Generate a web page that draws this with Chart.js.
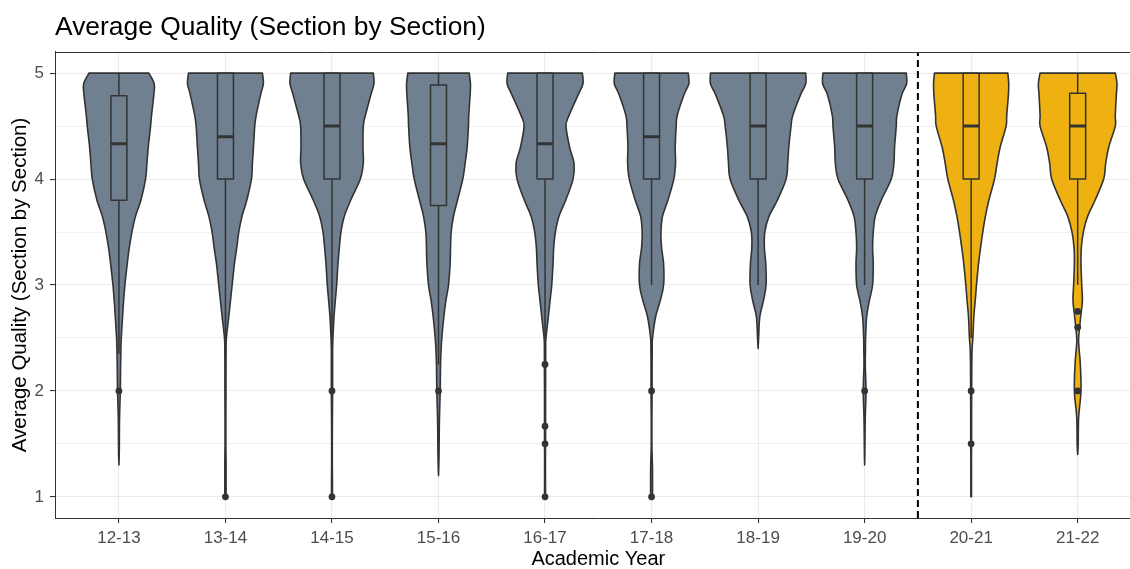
<!DOCTYPE html>
<html>
<head>
<meta charset="utf-8">
<title>Average Quality (Section by Section)</title>
<script src="https://cdn.jsdelivr.net/npm/chart.js@4.4.1/dist/chart.umd.min.js"></script>
<style>
  html, body { margin: 0; padding: 0; background: #fff; overflow: hidden; width: 1130px; height: 569px; }
  canvas { display: block; }
</style>
</head>
<body>
<canvas id="qualityChart" width="1145" height="569"></canvas>
<script>
// academic years on the x axis
const years = ["12-13", "13-14", "14-15", "15-16", "16-17", "17-18", "18-19", "19-20", "20-21", "21-22"];
const period = ["pre", "pre", "pre", "pre", "pre", "pre", "pre", "pre", "post", "post"];
const yTicks = [1, 2, 3, 4, 5];

// violin half-widths (in category units) at each quality level, null = outside data range
const densityLevels = [5.0, 4.9, 4.8, 4.6, 4.5, 4.3, 4.15, 4.0, 3.8, 3.65, 3.5, 3.35, 3.2, 3.0, 2.85, 2.7, 2.5, 2.4, 2.25, 2.0, 1.75, 1.5, 1.4, 1.3, 1.2, 1.0];
const violinWidths = [
  [0.281, 0.331, 0.328, 0.306, 0.297, 0.275, 0.263, 0.250, 0.206, 0.156, 0.122, 0.097, 0.078, 0.056, 0.044, 0.034, 0.022, 0.019, 0.016, 0.013, 0.006, 0.004, 0.003, 0, null, null],
  [0.347, 0.356, 0.331, 0.288, 0.275, 0.263, 0.253, 0.244, 0.200, 0.156, 0.125, 0.106, 0.084, 0.063, 0.047, 0.031, 0.009, 0.006, 0.005, 0.005, 0.004, 0.004, 0.005, 0.006, 0.006, 0.006],
  [0.388, 0.394, 0.366, 0.313, 0.294, 0.291, 0.294, 0.266, 0.175, 0.116, 0.084, 0.069, 0.056, 0.044, 0.031, 0.019, 0.009, 0.006, 0.006, 0.006, 0.004, 0.003, 0.003, 0.003, 0.004, 0.005],
  [0.288, 0.300, 0.297, 0.284, 0.281, 0.269, 0.250, 0.228, 0.178, 0.141, 0.119, 0.113, 0.109, 0.094, 0.069, 0.050, 0.031, 0.025, 0.019, 0.016, 0.009, 0.006, 0.005, 0.003, 0, null],
  [0.350, 0.356, 0.313, 0.225, 0.197, 0.231, 0.272, 0.263, 0.194, 0.131, 0.097, 0.081, 0.075, 0.063, 0.047, 0.031, 0.009, 0.006, 0.006, 0.005, 0.005, 0.005, 0.004, 0.004, 0.004, 0.005],
  [0.344, 0.350, 0.306, 0.241, 0.231, 0.222, 0.225, 0.209, 0.153, 0.103, 0.088, 0.094, 0.113, 0.113, 0.081, 0.038, 0.009, 0.006, 0.005, 0.005, 0.003, 0.003, 0.005, 0.008, 0.009, 0.009],
  [0.447, 0.447, 0.400, 0.325, 0.309, 0.288, 0.278, 0.263, 0.181, 0.103, 0.063, 0.059, 0.072, 0.075, 0.050, 0.016, 0.005, 0, null, null, null, null, null, null, null, null],
  [0.391, 0.394, 0.350, 0.303, 0.297, 0.281, 0.275, 0.250, 0.156, 0.100, 0.081, 0.075, 0.081, 0.075, 0.044, 0.019, 0.009, 0.008, 0.006, 0.013, 0.006, 0.003, 0.002, 0, null, null],
  [0.344, 0.353, 0.350, 0.334, 0.328, 0.272, 0.244, 0.219, 0.166, 0.134, 0.109, 0.088, 0.069, 0.050, 0.038, 0.025, 0.016, 0.009, 0.006, 0.005, 0.004, 0.004, 0.003, 0.003, 0.003, 0.003],
  [0.353, 0.369, 0.363, 0.353, 0.353, 0.291, 0.263, 0.244, 0.163, 0.094, 0.053, 0.034, 0.031, 0.038, 0.044, 0.028, 0.009, 0.013, 0.025, 0.031, 0.009, 0.005, 0, null, null, null]
];

// boxplot statistics
const q1          = [3.80, 4.0, 4.0, 3.75, 4.0, 4.0, 4.0, 4.0, 4.0, 4.0];
const median      = [4.333, 4.4, 4.5, 4.333, 4.333, 4.4, 4.5, 4.5, 4.5, 4.5];
const q3          = [4.786, 5.0, 5.0, 4.889, 5.0, 5.0, 5.0, 5.0, 5.0, 4.81];
const whiskerLow  = [2.35, 2.5, 2.5, 2.25, 2.5, 3.0, 3.0, 3.0, 2.5, 3.0];
const whiskerHigh = [5, 5, 5, 5, 5, 5, 5, 5, 5, 5];
const outliers = [
  [2.0],
  [1.0],
  [2.0, 1.0],
  [2.0],
  [2.25, 1.667, 1.5, 1.0],
  [2.0, 1.0],
  [],
  [2.0],
  [2.0, 1.5],
  [2.75, 2.6, 2.0]
];

// dashed divider sits between 19-20 and 20-21
const dividerAt = 7.5;

const periodColors = { pre: "#708090", post: "#EEB111" };
const ink = "#333333";
const boxHalf = 0.075;

Chart.defaults.font.family = "'Liberation Sans', Arial, sans-serif";

function spline(ctx, pts) {
  for (let k = 0; k < pts.length - 1; k++) {
    const p0 = pts[Math.max(k - 1, 0)];
    const p1 = pts[k];
    const p2 = pts[k + 1];
    const p3 = pts[Math.min(k + 2, pts.length - 1)];
    ctx.bezierCurveTo(
      p1.x + (p2.x - p0.x) / 6, p1.y + (p2.y - p0.y) / 6,
      p2.x - (p3.x - p1.x) / 6, p2.y - (p3.y - p1.y) / 6,
      p2.x, p2.y
    );
  }
}

const violinPlugin = {
  id: "violins",
  beforeDatasetsDraw(chart) {
    const { ctx, chartArea, scales: { x, y } } = chart;
    ctx.save();
    ctx.beginPath();
    ctx.rect(chartArea.left, chartArea.top, chartArea.right - chartArea.left, chartArea.bottom - chartArea.top);
    ctx.clip();

    years.forEach((yr, i) => {
      const widths = violinWidths[i];
      const keep = densityLevels.map((lv, k) => k).filter(k => widths[k] !== null);
      const right = keep.map(k => ({ x: x.getPixelForValue(i + widths[k]), y: y.getPixelForValue(densityLevels[k]) }));
      const left = keep.map(k => ({ x: x.getPixelForValue(i - widths[k]), y: y.getPixelForValue(densityLevels[k]) })).reverse();

      // violin body
      ctx.beginPath();
      ctx.moveTo(left[left.length - 1].x, left[left.length - 1].y);
      ctx.lineTo(right[0].x, right[0].y);
      spline(ctx, right);
      ctx.lineTo(left[0].x, left[0].y);
      spline(ctx, left);
      ctx.closePath();
      ctx.fillStyle = periodColors[period[i]];
      ctx.fill();
      ctx.lineWidth = 1.6;
      ctx.strokeStyle = ink;
      ctx.lineJoin = "round";
      ctx.stroke();

      // whiskers
      const cx = x.getPixelForValue(i);
      ctx.lineWidth = 1.5;
      ctx.beginPath();
      ctx.moveTo(cx, y.getPixelForValue(q3[i]));
      ctx.lineTo(cx, y.getPixelForValue(whiskerHigh[i]));
      ctx.moveTo(cx, y.getPixelForValue(q1[i]));
      ctx.lineTo(cx, y.getPixelForValue(whiskerLow[i]));
      ctx.stroke();

      // box
      const bl = x.getPixelForValue(i - boxHalf);
      const br = x.getPixelForValue(i + boxHalf);
      const bt = y.getPixelForValue(q3[i]);
      const bb = y.getPixelForValue(q1[i]);
      ctx.strokeRect(bl, bt, br - bl, bb - bt);

      // median
      const my = y.getPixelForValue(median[i]);
      ctx.lineWidth = 3;
      ctx.beginPath();
      ctx.moveTo(bl, my);
      ctx.lineTo(br, my);
      ctx.stroke();
    });
    ctx.restore();
  },
  afterDraw(chart) {
    const { ctx, chartArea } = chart;
    ctx.save();
    ctx.strokeStyle = ink;
    ctx.lineWidth = 1;
    ctx.beginPath();
    ctx.moveTo(chartArea.left, Math.round(chartArea.top) + 0.5);
    ctx.lineTo(chartArea.right, Math.round(chartArea.top) + 0.5);
    ctx.stroke();
    ctx.restore();
  }
};

const outlierPoints = outliers.flatMap((vals, i) => vals.map(v => ({ x: i, y: v })));

const ctx = document.getElementById("qualityChart").getContext("2d");
new Chart(ctx, {
  type: "scatter",
  data: {
    datasets: [
      {
        label: "divider",
        type: "line",
        data: [{ x: dividerAt, y: 0.8 }, { x: dividerAt, y: 5.2 }],
        borderColor: "#000",
        borderWidth: 2,
        borderDash: [7, 4],
        pointRadius: 0,
        fill: false
      },
      {
        label: "outliers",
        data: outlierPoints,
        pointRadius: 3.4,
        pointHoverRadius: 3.4,
        pointBackgroundColor: ink,
        pointBorderWidth: 0
      }
    ]
  },
  options: {
    responsive: false,
    animation: false,
    layout: { padding: 0 },
    plugins: {
      legend: { display: false },
      tooltip: { enabled: false },
      title: {
        display: true,
        text: "Average Quality (Section by Section)",
        align: "start",
        fullSize: false,
        color: "#000",
        font: { size: 26.4, weight: "normal", lineHeight: 1.2 },
        padding: { top: 12, bottom: 8.3 }
      }
    },
    scales: {
      x: {
        type: "linear",
        position: "bottom",
        min: -0.6,
        max: 9.6,
        afterBuildTicks: s => { s.ticks = years.map((yr, i) => ({ value: i })); },
        afterFit: s => { s.height = 51; },
        ticks: {
          autoSkip: false,
          maxRotation: 0,
          padding: 5,
          color: "#4D4D4D",
          font: { size: 17 },
          callback: v => years[Math.round(v)]
        },
        grid: { color: "#EBEBEB", lineWidth: 1.1, tickLength: 5, tickColor: ink },
        border: { display: true, color: ink, width: 1 },
        title: {
          display: true,
          text: "Academic Year",
          color: "#000",
          font: { size: 20, lineHeight: 0.92 },
          padding: 0
        }
      },
      y: {
        type: "linear",
        min: 0.8,
        max: 5.2,
        afterBuildTicks: s => {
          s.ticks = yTicks.flatMap((t, k) => k < yTicks.length - 1 ? [{ value: t }, { value: t + 0.5 }] : [{ value: t }]);
        },
        afterFit: s => { s.width = 55; },
        ticks: {
          autoSkip: false,
          padding: 6,
          color: "#4D4D4D",
          font: { size: 17 },
          callback: v => Number.isInteger(v) ? String(v) : ""
        },
        grid: {
          color: c => c.tick && Number.isInteger(c.tick.value) ? "#EBEBEB" : "#EEEEEE",
          lineWidth: c => c.tick && Number.isInteger(c.tick.value) ? 1.1 : 0.8,
          tickLength: 5,
          tickColor: c => c.tick && Number.isInteger(c.tick.value) ? ink : "rgba(0,0,0,0)"
        },
        border: { display: true, color: ink, width: 1 },
        title: {
          display: true,
          text: "Average Quality (Section by Section)",
          color: "#000",
          font: { size: 20.5, lineHeight: 1.2 },
          padding: { top: 8, bottom: 0 }
        }
      }
    }
  },
  plugins: [violinPlugin]
});
</script>
</body>
</html>
